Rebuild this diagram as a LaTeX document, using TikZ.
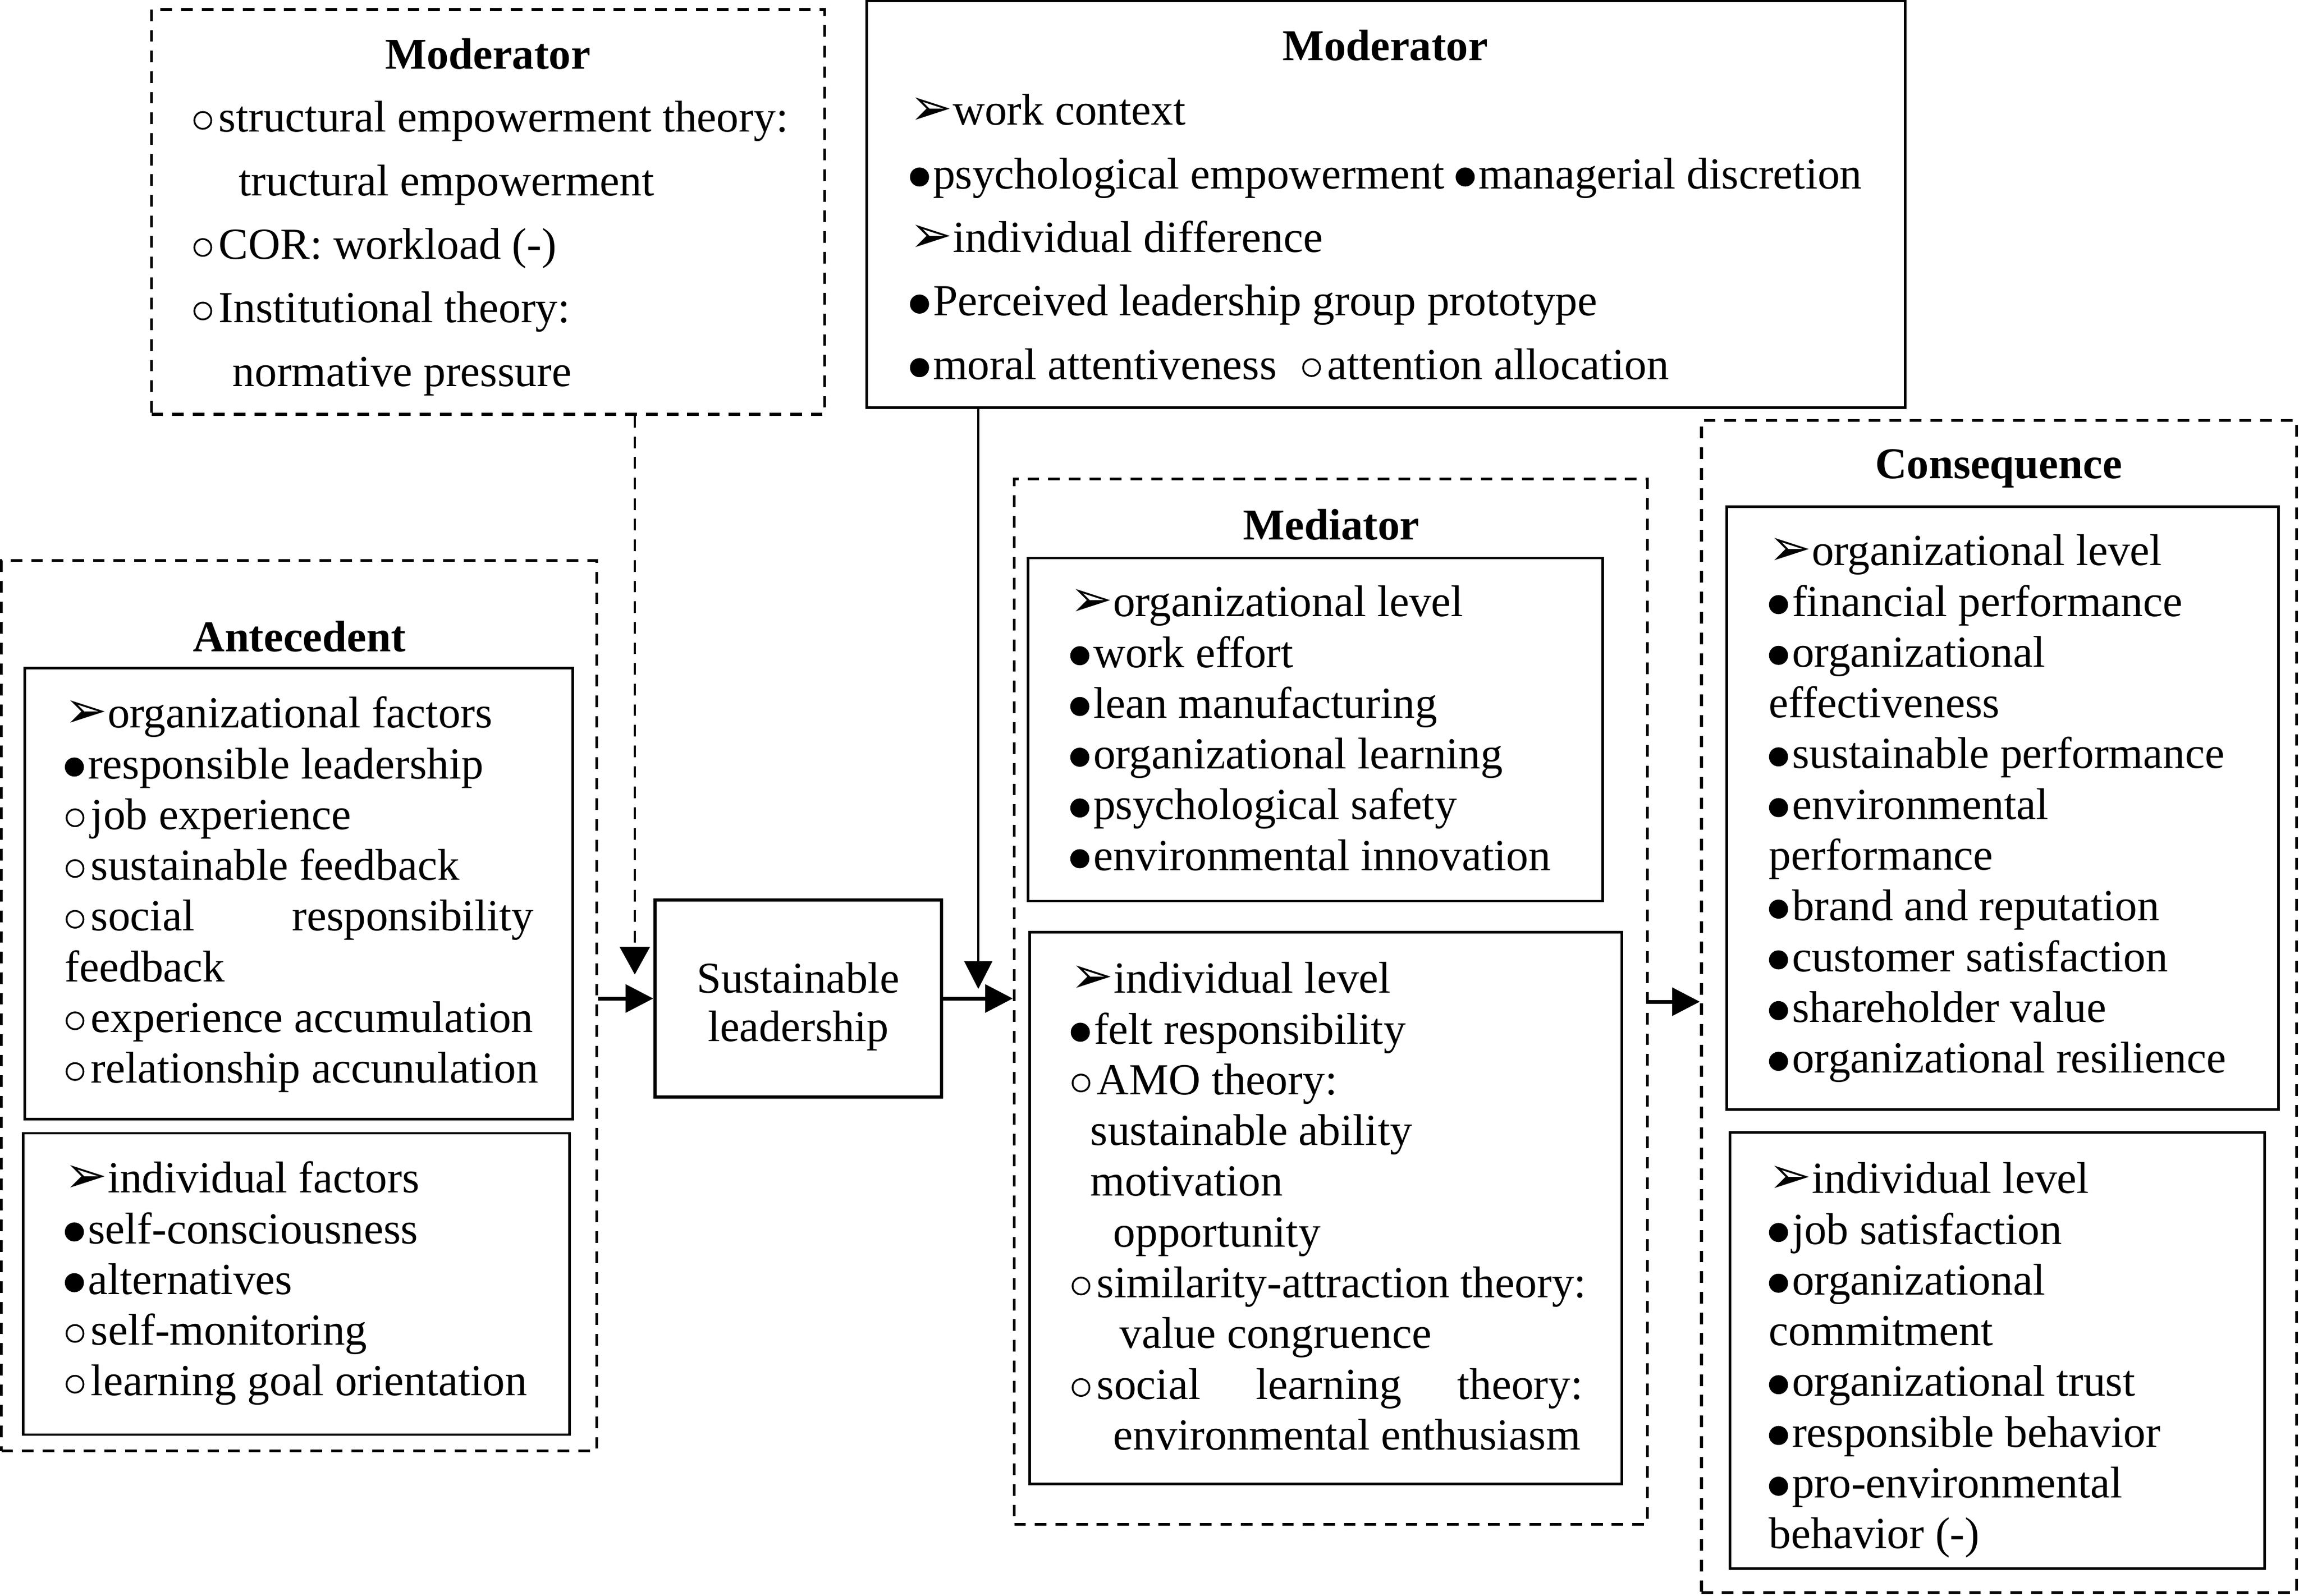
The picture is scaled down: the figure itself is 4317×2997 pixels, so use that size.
\documentclass[tikz,border=0pt]{standalone}
\usepackage{fontspec}
\setmainfont{Liberation Serif}
\newfontfamily\dvfont{DejaVu Sans}
\usetikzlibrary{arrows.meta}
\newcommand{\bfull}{\tikz[baseline=-0.26em]\fill (0,0) circle[radius=0.215em];\hspace{0.09em}}
\newcommand{\bopen}{\hspace{0.02em}\tikz[baseline=-0.26em]\draw[line width=0.04em] (0,0) circle[radius=0.19em];\hspace{0.15em}}
\newcommand{\barr}{\scalebox{1.15}{\dvfont ➢}}
\begin{document}
\begin{tikzpicture}[x=0.01cm, y=-0.01cm,
  dbox/.style={draw, line width=1.6pt, dash pattern=on 6.2pt off 4.8pt, inner sep=0pt},
  sbox/.style={draw, line width=1.3pt, inner sep=0pt},
  txt/.style={anchor=north west, align=left, inner sep=0pt, font=\fontsize{23.7}{27.1}\selectfont},
  ttxt/.style={anchor=north west, align=left, inner sep=0pt, font=\fontsize{23.7}{33.93}\selectfont},
  ttl/.style={anchor=base, inner sep=0pt, font=\fontsize{23.5}{28}\selectfont\bfseries},
  arr/.style={-{Triangle[length=0.52cm,width=0.52cm]}, line width=2pt},
  darr/.style={-{Triangle[length=0.52cm,width=0.56cm]}, line width=1.4pt, dash pattern=on 6.2pt off 4.8pt},
  varr/.style={-{Triangle[length=0.52cm,width=0.52cm]}, line width=1.2pt}]
\useasboundingbox (0,0) rectangle (4317,2997);

% boxes
\node[dbox, minimum width=12.63cm, minimum height=7.60cm] (modL) at (916.5,398) {};
\node[sbox, line width=1.4pt, minimum width=19.49cm, minimum height=7.63cm] (modT) at (2602.5,383.5) {};
\node[dbox, minimum width=11.17cm, minimum height=16.71cm] (ante) at (561.5,1888.5) {};
\node[sbox, minimum width=10.28cm, minimum height=8.46cm] (anteO) at (561,1678) {};
\node[sbox, minimum width=10.25cm, minimum height=5.66cm] (anteI) at (556.5,2411) {};
\node[sbox, line width=1.8pt, minimum width=5.38cm, minimum height=3.70cm] (sl) at (1499,1875) {};
\node[align=center, inner sep=0pt, font=\fontsize{23.5}{25.8}\selectfont] (slT) at (1499,1890) {Sustainable\\leadership};
\node[dbox, minimum width=11.88cm, minimum height=19.62cm] (med) at (2499,1881) {};
\node[sbox, minimum width=10.78cm, minimum height=6.44cm] (medO) at (2470,1370) {};
\node[sbox, minimum width=11.11cm, minimum height=10.35cm] (medI) at (2489.5,2268.5) {};
\node[dbox, minimum width=11.17cm, minimum height=22.00cm] (cons) at (3753.5,1890) {};
\node[sbox, minimum width=10.35cm, minimum height=11.31cm] (consO) at (3760.5,1517.5) {};
\node[sbox, minimum width=10.03cm, minimum height=8.18cm] (consI) at (3750.5,2536) {};

% titles
\node[ttl] (tModL) at (916,130) {Moderator};
\node[ttl] (tModT) at (2601,114) {Moderator};
\node[ttl] (tAnte) at (562,1223) {Antecedent};
\node[ttl] (tMed) at (2500,1013) {Mediator};
\node[ttl] (tCons) at (3753,898) {Consequence};

% texts
\node[ttxt] (xModL) at (361,163.5) {\strut\bopen structural empowerment theory:\\
\hspace*{0.87cm}tructural empowerment\\
\bopen COR: workload (-)\\
\bopen Institutional theory:\\
\hspace*{0.75cm}normative pressure};

\node[ttxt] (xModT) at (1708,150.5) {\strut\barr work context\\
\bfull psychological empowerment \bfull managerial discretion\\
\barr individual difference\\
\bfull Perceived leadership group prototype\\
\bfull moral attentiveness\hspace{0.55em}\bopen attention allocation};

\node[txt] (xAnteO) at (121,1299.3) {\strut\barr organizational factors\\
\bfull responsible leadership\\
\bopen job experience\\
\bopen sustainable feedback\\
\hbox to 8.8cm{\bopen social\hfill responsibility}\\
feedback\\
\bopen experience accumulation\\
\bopen relationship accunulation};

\node[txt] (xAnteI) at (121,2172.3) {\strut\barr individual factors\\
\bfull self-consciousness\\
\bfull alternatives\\
\bopen self-monitoring\\
\bopen learning goal orientation};

\node[txt] (xMedO) at (2009,1090.3) {\strut\barr organizational level\\
\bfull work effort\\
\bfull lean manufacturing\\
\bfull organizational learning\\
\bfull psychological safety\\
\bfull environmental innovation};

\node[txt] (xMedI) at (2010,1797.3) {\strut\barr individual level\\
\bfull felt responsibility\\
\bopen AMO theory:\\
\hspace*{0.37cm}sustainable ability\\
\hspace*{0.37cm}motivation\\
\hspace*{0.80cm}opportunity\\
\bopen similarity-attraction theory:\\
\hspace*{0.92cm}value congruence\\
\hbox to 9.61cm{\bopen social\hfill learning\hfill theory:}\\
\hspace*{0.80cm}environmental enthusiasm};

\node[txt] (xConsO) at (3321,994.3) {\strut\barr organizational level\\
\bfull financial performance\\
\bfull organizational\\
effectiveness\\
\bfull sustainable performance\\
\bfull environmental\\
performance\\
\bfull brand and reputation\\
\bfull customer satisfaction\\
\bfull shareholder value\\
\bfull organizational resilience};

\node[txt] (xConsI) at (3321,2173.3) {\strut\barr individual level\\
\bfull job satisfaction\\
\bfull organizational\\
commitment\\
\bfull organizational trust\\
\bfull responsible behavior\\
\bfull pro-environmental\\
behavior (-)};

% connectors
\coordinate (dtip) at (1192,1830);
\coordinate (stip) at (1837,1857);
\draw[arr] (sl.west -| ante.east) -- (sl.west);
\draw[darr] (modL.south -| dtip) -- (dtip);
\draw[varr] (modT.south -| stip) -- (stip);
\draw[arr] (sl.east) -- (sl.east -| med.west);
\draw[arr] (med.east) -- (med.east -| cons.west);
\end{tikzpicture}
\end{document}
